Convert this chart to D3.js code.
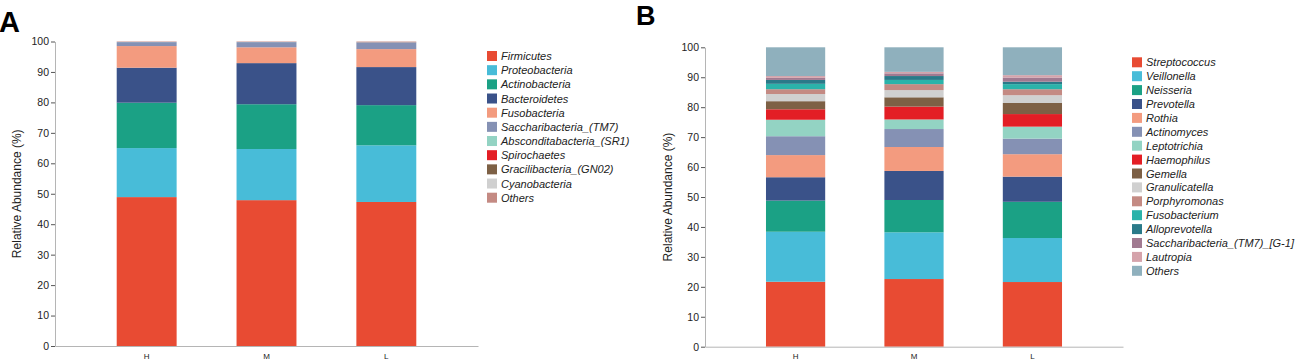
<!DOCTYPE html>
<html>
<head>
<meta charset="utf-8">
<script src="https://cdn.jsdelivr.net/npm/d3@7/dist/d3.min.js"></script>
<style>
  body { margin: 0; background: #fff; }
  svg { font-family: "Liberation Sans", Arial, sans-serif; }
</style>
</head>
<body>
<script>
// groups on the x axis
var groups = ["H", "M", "L"];
var yTicks = [0, 10, 20, 30, 40, 50, 60, 70, 80, 90, 100];

// panel A - phylum level (bottom to top)
var phylaNames = ["Firmicutes", "Proteobacteria", "Actinobacteria", "Bacteroidetes", "Fusobacteria",
  "Saccharibacteria_(TM7)", "Absconditabacteria_(SR1)", "Spirochaetes", "Gracilibacteria_(GN02)",
  "Cyanobacteria", "Others"];
var phylaH = [48.9, 16.1, 14.9, 11.5, 7.1, 1.3, 0.05, 0.05, 0.03, 0.03, 0.04];
var phylaM = [47.9, 16.8, 14.7, 13.5, 5.2, 1.7, 0.05, 0.05, 0.03, 0.03, 0.04];
var phylaL = [47.3, 18.6, 13.2, 12.5, 5.9, 2.2, 0.03, 0.03, 0.05, 0.04, 0.15];
var phylaColors = ["#e84b33", "#48bcd8", "#1ba185", "#3a5289", "#f39b7f", "#8591b4",
  "#93d3c3", "#e31e25", "#7d6045", "#d0d0d0", "#c48a83"];

// panel B - genus level (bottom to top)
var genusNames = ["Streptococcus", "Veillonella", "Neisseria", "Prevotella", "Rothia", "Actinomyces",
  "Leptotrichia", "Haemophilus", "Gemella", "Granulicatella", "Porphyromonas", "Fusobacterium",
  "Alloprevotella", "Saccharibacteria_(TM7)_[G-1]", "Lautropia", "Others"];
var genusH = [21.7, 16.7, 10.4, 7.8, 7.4, 6.3, 5.5, 3.5, 2.7, 2.4, 1.6, 1.8, 1.3, 0.7, 0.6, 9.6];
var genusM = [22.6, 15.6, 10.8, 9.7, 8.0, 6.0, 3.2, 4.3, 3.1, 2.4, 2.0, 1.4, 1.3, 0.9, 0.5, 8.2];
var genusL = [21.6, 14.7, 12.1, 8.4, 7.5, 5.2, 4.0, 4.2, 3.7, 2.6, 2.0, 1.7, 0.8, 1.4, 0.8, 9.3];
var genusColors = ["#e84b33", "#48bcd8", "#1ba185", "#3a5289", "#f39b7f", "#8591b4",
  "#93d3c3", "#e31e25", "#7d6045", "#d0d0d0", "#c48a83", "#2bb3aa",
  "#2a7a89", "#a17a91", "#d5a3ab", "#8fb0bd"];

var W = 1297, H = 361;
var svg = d3.select("body").append("svg").attr("width", W).attr("height", H);

function panel(opt) {
  var names = opt.names;
  // build rows for d3.stack
  var rows = groups.map(function(g, gi) {
    var r = { group: g };
    names.forEach(function(n, i) { r[n] = opt.values[gi][i]; });
    return r;
  });
  var series = d3.stack().keys(names)(rows);

  var x = d3.scaleBand().domain(groups).range(opt.xRange)
    .paddingInner(0.5).paddingOuter(0.515);
  var y = d3.scaleLinear().domain([0, 100]).range(opt.yRange);
  var color = d3.scaleOrdinal().domain(names).range(opt.colors);

  var g = svg.append("g");

  g.selectAll("g.layer")
    .data(series)
    .enter().append("g")
    .attr("class", "layer")
    .attr("fill", function(d) { return color(d.key); })
    .selectAll("rect")
    .data(function(d) { return d; })
    .enter().append("rect")
    .attr("x", function(d) { return x(d.data.group); })
    .attr("width", x.bandwidth())
    .attr("y", function(d) { return y(d[1]); })
    .attr("height", function(d) { return y(d[0]) - y(d[1]); });

  // y axis
  var yAxis = d3.axisLeft(y).tickValues(yTicks).tickSize(4).tickSizeOuter(0).tickPadding(2);
  var ya = g.append("g")
    .attr("transform", "translate(" + opt.xRange[0] + ",0)")
    .call(yAxis);
  ya.select(".domain").attr("stroke", "#b5b5b5");
  ya.selectAll(".tick line").attr("stroke", "#555");
  ya.selectAll("text").attr("font-size", "10.5px").attr("fill", "#222")
    .attr("font-family", "Liberation Sans, Arial, sans-serif");

  // x axis
  var xAxis = d3.axisBottom(x).tickSize(0).tickSizeOuter(0).tickPadding(7);
  var xa = g.append("g")
    .attr("transform", "translate(0," + opt.yRange[0] + ")")
    .call(xAxis);
  xa.select(".domain").attr("stroke", "#b5b5b5");
  xa.selectAll("text").attr("font-size", "8px").attr("fill", "#222")
    .attr("font-family", "Liberation Sans, Arial, sans-serif");

  // y axis title
  g.append("text")
    .attr("transform", "translate(" + opt.titleX + "," + (opt.yRange[0] + opt.yRange[1]) / 2 + ") rotate(-90)")
    .attr("text-anchor", "middle")
    .attr("font-size", "12px")
    .attr("fill", "#222")
    .text("Relative Abundance (%)");

  // panel letter
  g.append("text")
    .attr("x", opt.letterX).attr("y", opt.letterY)
    .attr("font-size", opt.letterSize)
    .attr("font-weight", "bold")
    .attr("fill", "#000")
    .text(opt.letter);

  // legend
  var leg = g.append("g").attr("transform", "translate(" + opt.legX + "," + opt.legY + ")");
  var item = leg.selectAll("g").data(names).enter().append("g")
    .attr("transform", function(d, i) { return "translate(0," + i * opt.legStep + ")"; });
  item.append("rect")
    .attr("x", 0).attr("y", -5).attr("width", 10).attr("height", 10)
    .attr("fill", function(d) { return color(d); });
  item.append("text")
    .attr("x", 14).attr("y", 4)
    .attr("font-size", "11px")
    .attr("font-style", "italic")
    .attr("fill", "#222")
    .text(function(d) { return d; });
}

panel({
  names: phylaNames, values: [phylaH, phylaM, phylaL], colors: phylaColors,
  xRange: [55, 478], yRange: [346, 41.5],
  titleX: 21, letter: "A", letterX: -1, letterY: 32, letterSize: "29px",
  legX: 487, legY: 56, legStep: 14.17
});

panel({
  names: genusNames, values: [genusH, genusM, genusL], colors: genusColors,
  xRange: [705, 1123], yRange: [346.7, 47.3],
  titleX: 672, letter: "B", letterX: 636, letterY: 25, letterSize: "27px",
  legX: 1132, legY: 62.3, legStep: 13.9
});
</script>
</body>
</html>
